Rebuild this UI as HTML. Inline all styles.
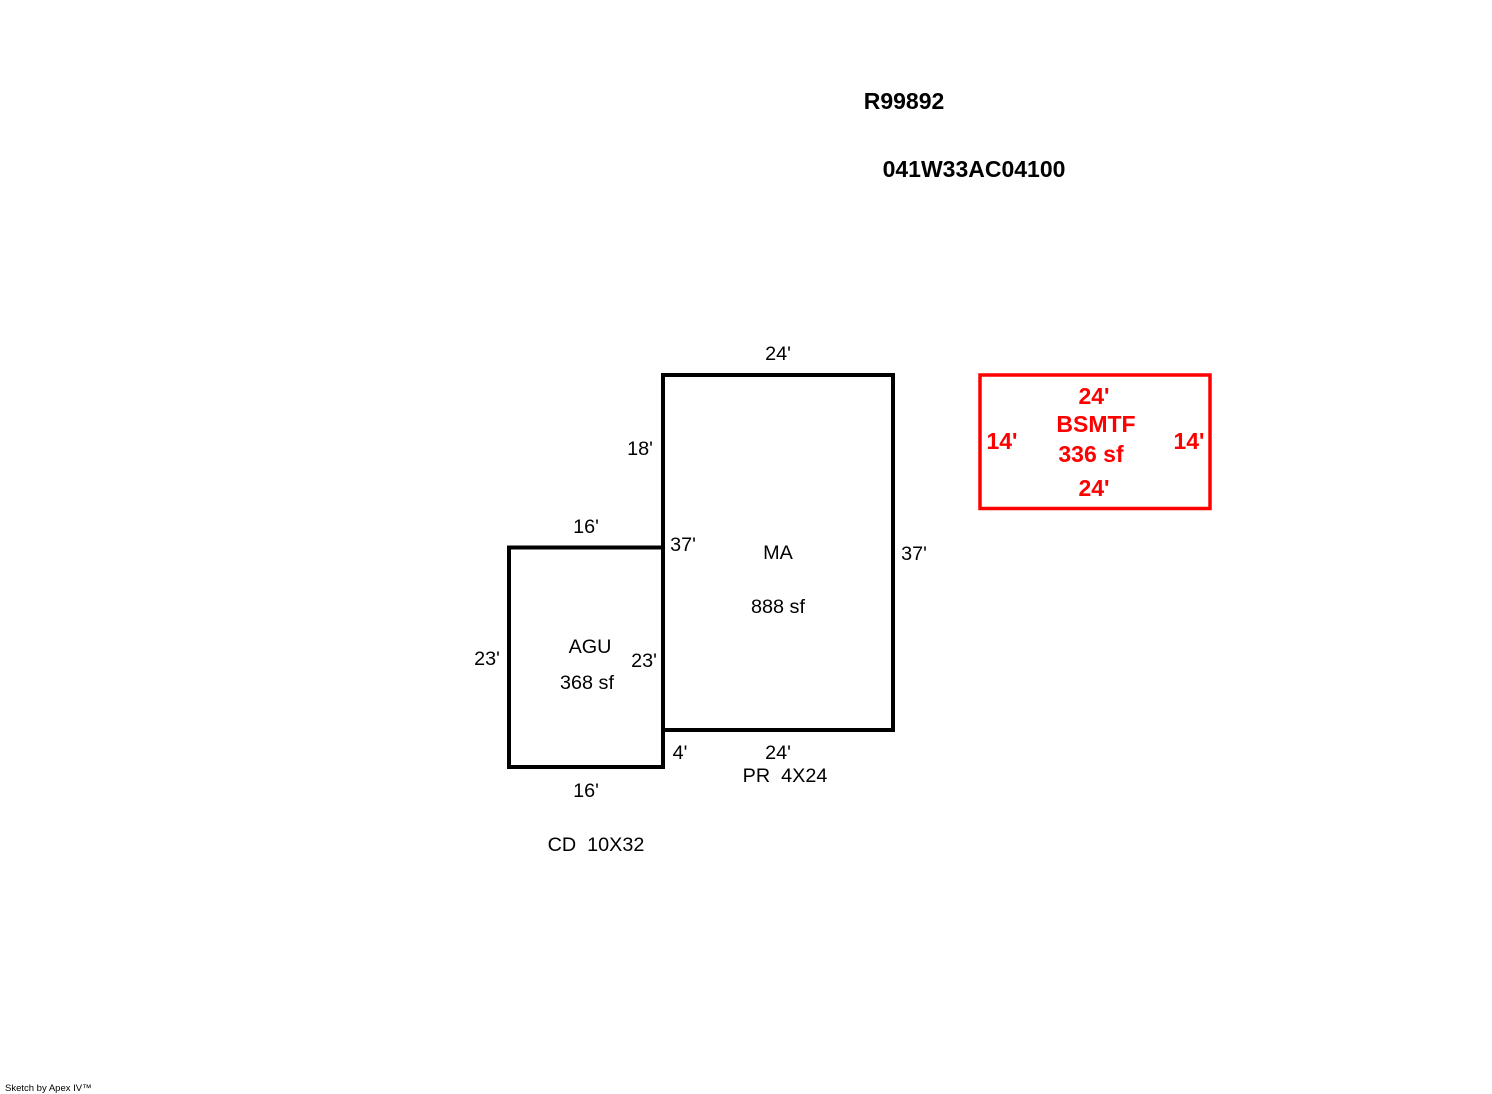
<!DOCTYPE html>
<html><head><style>html,body{margin:0;padding:0;background:#fff;}svg{display:block}</style></head>
<body>
<svg width="1492" height="1094" viewBox="0 0 1492 1094" xmlns="http://www.w3.org/2000/svg">
<rect x="0" y="0" width="1492" height="1094" fill="#fff"/>
<g fill="none" stroke="#000" stroke-width="4">
<rect x="663" y="375" width="230" height="355"/>
<rect x="509" y="547.5" width="154" height="219.5"/>
</g>
<rect x="980" y="375" width="230" height="133.5" fill="none" stroke="#f00" stroke-width="3.5"/>
<g font-family="Liberation Sans, Arial, sans-serif" font-size="19.8" fill="#000" text-anchor="middle">
<text x="778" y="360">24'</text>
<text x="640" y="455">18'</text>
<text x="586" y="533">16'</text>
<text x="683" y="551">37'</text>
<text x="778" y="559">MA</text>
<text x="778" y="613">888 sf</text>
<text x="914" y="560">37'</text>
<text x="590" y="653">AGU</text>
<text x="487" y="665">23'</text>
<text x="644" y="667">23'</text>
<text x="587" y="689">368 sf</text>
<text x="680" y="759">4'</text>
<text x="778" y="759">24'</text>
<text x="785" y="782" xml:space="preserve">PR  4X24</text>
<text x="586" y="797">16'</text>
<text x="596" y="851" xml:space="preserve">CD  10X32</text>
</g>
<g font-family="Liberation Sans, Arial, sans-serif" font-size="23" font-weight="bold" fill="#000" text-anchor="middle">
<text x="904" y="109">R99892</text>
<text x="974" y="177">041W33AC04100</text>
</g>
<g font-family="Liberation Sans, Arial, sans-serif" font-size="23" font-weight="bold" fill="#f00" text-anchor="middle">
<text x="1094" y="404">24'</text>
<text x="1096" y="432">BSMTF</text>
<text x="1002" y="449">14'</text>
<text x="1189" y="449">14'</text>
<text x="1091" y="462">336 sf</text>
<text x="1094" y="496">24'</text>
</g>
<text x="5" y="1091" font-family="Liberation Sans, Arial, sans-serif" font-size="9.5" fill="#000">Sketch by Apex IV™</text>
</svg>
</body></html>
